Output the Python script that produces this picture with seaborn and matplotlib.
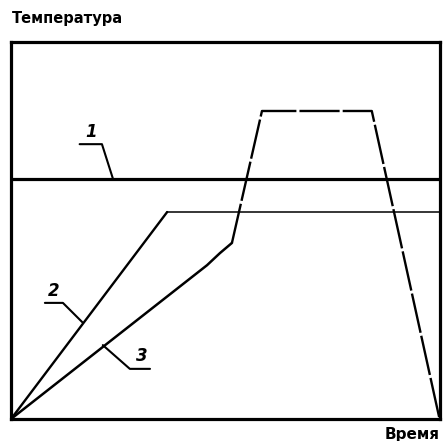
import seaborn as sns
from matplotlib import pyplot as plt
import pandas as pd

# curve 1 - horizontal level
line1_x = [0, 100]
line1_y = [63.6, 63.6]

# curve 2 - linear ramp then hold
line2_x = [0, 36.4, 100]
line2_y = [0, 54.9, 54.9]

# curve 3 - ramp, knee, steep rise, plateau, drop
line3_x = [0, 45.7, 48.7, 51.5, 58.5, 84.1, 99.8]
line3_y = [0, 40.8, 44.0, 46.7, 81.7, 81.7, 0.5]
KNEE = 3  # solid up to here, dashed after

labels = ["1", "2", "3"]


def draw():
    sns.set_style("white")
    fig = plt.figure(figsize=(4.43, 4.41), dpi=100)
    ax = fig.add_axes([11 / 443, 22 / 441, 429 / 443, 377 / 441])

    d1 = pd.DataFrame({"x": line1_x, "y": line1_y})
    d2 = pd.DataFrame({"x": line2_x, "y": line2_y})
    d3 = pd.DataFrame({"x": line3_x, "y": line3_y})

    kw = dict(ax=ax, color="black", sort=False, estimator=None)
    sns.lineplot(data=d1, x="x", y="y", linewidth=2.3, **kw)
    # ramp is drawn heavier than the hold
    sns.lineplot(data=d2.iloc[:2], x="x", y="y", linewidth=1.7, **kw)
    sns.lineplot(data=d2.iloc[1:], x="x", y="y", linewidth=1.1, **kw)
    sns.lineplot(data=d3.iloc[:KNEE + 1], x="x", y="y", linewidth=1.8, **kw)
    sns.lineplot(data=d3.iloc[KNEE:], x="x", y="y", linewidth=1.7, **kw)
    ax.lines[-1].set_dashes((17, 1.3))

    # leader lines with labels
    leaders = [
        ([16.0, 21.2, 23.8], [72.9, 72.9, 63.6]),
        ([7.9, 12.1, 16.6], [30.8, 30.8, 25.7]),
        ([21.4, 27.7, 32.4], [19.6, 13.3, 13.3]),
    ]
    label_pos = [(18.6, 73.8), (10.0, 31.6), (30.4, 14.2)]
    for (lx, ly), (tx, ty), lab in zip(leaders, label_pos, labels):
        ax.plot(lx, ly, color="black", linewidth=1.5)
        ax.text(tx, ty, lab, ha="center", va="bottom", fontsize=12,
                fontweight="bold", fontstyle="italic", color="black")

    ax.set_xlim(0, 100)
    ax.set_ylim(0, 100)
    ax.set_xticks([])
    ax.set_yticks([])
    ax.set_xlabel("")
    ax.set_ylabel("")
    for s in ax.spines.values():
        s.set_visible(True)
        s.set_color("black")
        s.set_linewidth(2.3)

    fig.text(12 / 443, 1 - 19 / 441, "Температура", ha="left", va="center",
             fontsize=10.5, fontweight="bold", color="black")
    fig.text(440 / 443, 1 - 434 / 441, "Время", ha="right", va="center",
             fontsize=11, fontweight="bold", color="black")

    fig.savefig("out.png", dpi=100)


if __name__ == "__main__":
    draw()
